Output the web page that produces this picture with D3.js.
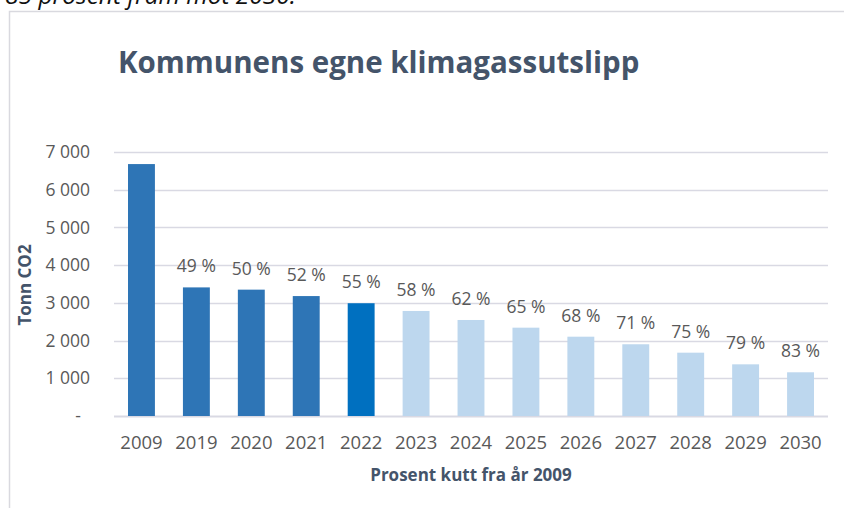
<!DOCTYPE html>
<html>
<head>
<meta charset="utf-8">
<script src="https://cdn.jsdelivr.net/npm/d3@7"></script>
<style>
  body { margin: 0; background: #fff; }
  svg { display: block; font-family: "Open Sans", sans-serif; }
</style>
</head>
<body>
<svg id="chart" width="844" height="508"></svg>
<script>
// data
var years = ["2009", "2019", "2020", "2021", "2022", "2023", "2024", "2025", "2026", "2027", "2028", "2029", "2030"];
var tonn = [6680, 3410, 3350, 3180, 2990, 2785, 2546, 2342, 2103, 1902, 1679, 1370, 1159];
var kutt = ["", "49 %", "50 %", "52 %", "55 %", "58 %", "62 %", "65 %", "68 %", "71 %", "75 %", "79 %", "83 %"];
var phase = ["hist", "hist", "hist", "hist", "now", "goal", "goal", "goal", "goal", "goal", "goal", "goal", "goal"];
var yTicks = [0, 1000, 2000, 3000, 4000, 5000, 6000, 7000];
var yTickLabels = ["-", "1 000", "2 000", "3 000", "4 000", "5 000", "6 000", "7 000"];

var svg = d3.select("#chart");
var W = 844, H = 508;

var colour = d3.scaleOrdinal()
  .domain(["hist", "now", "goal"])
  .range(["#2E75B6", "#0070C0", "#BDD7EE"]);

var rows = years.map(function(yr, i) {
  return { year: yr, value: tonn[i], label: kutt[i], phase: phase[i] };
});

var margin = { left: 114, right: 16, top: 152, bottom: 92 };

var x = d3.scaleBand()
  .domain(years)
  .range([margin.left, W - margin.right])
  .paddingInner(0.51)
  .paddingOuter(0.255);

var y = d3.scaleLinear()
  .domain([0, 7000])
  .range([H - margin.bottom, margin.top]);

// text above the chart box (cut off at the top, as in the source)
svg.append("text")
  .attr("x", 296)
  .attr("y", 4)
  .attr("text-anchor", "end")
  .attr("font-style", "italic")
  .attr("font-size", 24.5)
  .attr("fill", "#111")
  .text("85 prosent fram mot 2030.");

// chart box frame
svg.append("path")
  .attr("d", "M9.5," + H + "V11.5H" + W)
  .attr("fill", "none")
  .attr("stroke", "#D9D9DF")
  .attr("stroke-width", 1.5);

// title
svg.append("text")
  .attr("x", 118)
  .attr("y", 73)
  .attr("font-size", 29.5)
  .attr("font-weight", "bold")
  .attr("fill", "#44546A")
  .text("Kommunens egne klimagassutslipp");

// gridlines
svg.append("g")
  .selectAll("line")
  .data(yTicks)
  .enter().append("line")
  .attr("x1", margin.left)
  .attr("x2", W - margin.right)
  .attr("y1", function(d) { return Math.round(y(d)) + 0.5; })
  .attr("y2", function(d) { return Math.round(y(d)) + 0.5; })
  .attr("stroke", "#D9D9E3")
  .attr("stroke-width", function(d) { return d === 0 ? 2 : 1.5; });

// y axis labels
var yAxis = d3.axisLeft(y)
  .tickValues(yTicks)
  .tickSize(0)
  .tickPadding(0)
  .tickFormat(function(d, i) { return yTickLabels[i]; });

var gy = svg.append("g")
  .attr("transform", "translate(90,0)")
  .call(yAxis);
gy.select(".domain").remove();
gy.selectAll("text")
  .attr("font-family", "Open Sans, sans-serif")
  .attr("font-size", 17.5)
  .attr("fill", "#595959")
  .attr("dx", function(d) { return d === 0 ? -9 : 0; });

// bars
svg.append("g")
  .selectAll("rect")
  .data(rows)
  .enter().append("rect")
  .attr("x", function(d) { return x(d.year); })
  .attr("width", x.bandwidth())
  .attr("y", function(d) { return y(d.value); })
  .attr("height", function(d) { return y(0) - y(d.value); })
  .attr("fill", function(d) { return colour(d.phase); });

// percent labels
svg.append("g")
  .selectAll("text")
  .data(rows)
  .enter().append("text")
  .attr("x", function(d) { return x(d.year) + x.bandwidth() / 2; })
  .attr("y", function(d) { return y(d.value) - 15; })
  .attr("text-anchor", "middle")
  .attr("font-size", 17.5)
  .attr("fill", "#595959")
  .text(function(d) { return d.label; });

// x axis labels
var xAxis = d3.axisBottom(x).tickSize(0).tickPadding(0);
var gx = svg.append("g")
  .attr("transform", "translate(0," + (y(0) + 33) + ")")
  .call(xAxis);
gx.select(".domain").remove();
gx.selectAll("text")
  .attr("font-family", "Open Sans, sans-serif")
  .attr("font-size", 18.5)
  .attr("fill", "#595959")
  .attr("dy", 0);

// axis titles
svg.append("text")
  .attr("x", 471)
  .attr("y", 481)
  .attr("text-anchor", "middle")
  .attr("font-size", 17)
  .attr("font-weight", "bold")
  .attr("fill", "#44546A")
  .text("Prosent kutt fra år 2009");

svg.append("text")
  .attr("transform", "translate(31,285) rotate(-90)")
  .attr("text-anchor", "middle")
  .attr("font-size", 17)
  .attr("font-weight", "bold")
  .attr("fill", "#44546A")
  .text("Tonn CO2");
</script>
</body>
</html>
